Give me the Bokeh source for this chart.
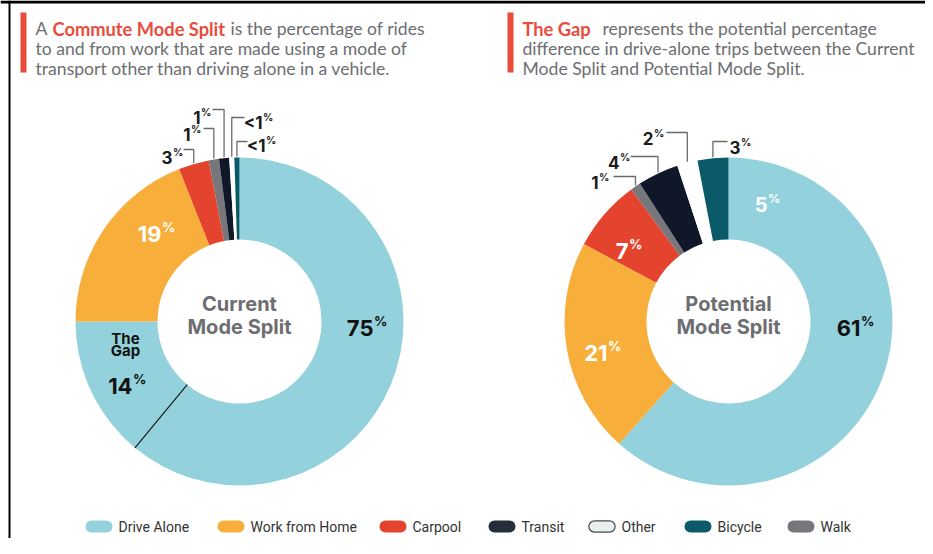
import math
from bokeh.plotting import figure
from bokeh.models import ColumnDataSource, Range1d
from bokeh.core.properties import value
from bokeh.embed import file_html
from bokeh.resources import INLINE

# ---------------- data ----------------
modes = ["Drive Alone", "Work from Home", "Carpool", "Walk", "Transit", "Other", "Bicycle"]
current_values = [75, 19, 3, 1, 1, 0.5, 0.5]
current_labels = ["75", "19", "3", "1", "1", "<1", "<1"]
potential_values = [61, 21, 7, 1, 4, 2, 3]
potential_labels = ["61", "21", "7", "1", "4", "2", "3"]
gap_value = 14
potential_drive_alone_gap_label = "5"
legend_order = ["Drive Alone", "Work from Home", "Carpool", "Transit", "Other", "Bicycle", "Walk"]

colors = {"Drive Alone": "#93d2dc", "Work from Home": "#f8ae3a", "Carpool": "#e4432e",
          "Walk": "#77767b", "Transit": "#0f1729", "Other": "#ffffff", "Bicycle": "#0a5a6a"}
legend_fill = dict(colors, Other="#e9eeee", Transit="#262d3b")

RED = "#e84c3d"
GRAY = "#6d6e71"
FONT = value("Lato")
LFONT = value("Inter")

W, H = 925, 538
p = figure(width=W, height=H, output_backend="svg", toolbar_location=None,
           x_range=Range1d(0, W), y_range=Range1d(0, H),
           x_axis_type=None, y_axis_type=None, min_border=0)
p.grid.visible = False
p.outline_line_color = None
p.background_fill_color = "white"


def Y(py):
    return H - py


R_IN, R_OUT = 82, 164
CY = 321


def donut(cx, values):
    total = float(sum(values))
    s = 0.0
    starts, ends, mids = [], [], []
    for v in values:
        a0 = s / total * 360.0
        a1 = (s + v) / total * 360.0
        s += v
        starts.append(math.radians(90 - a1))
        ends.append(math.radians(90 - a0))
        mids.append((a0 + a1) / 2)
    src = ColumnDataSource(dict(mode=modes, value=values, start=starts, end=ends,
                                color=[colors[m] for m in modes]))
    p.annular_wedge(x=cx, y=Y(CY), inner_radius=R_IN, outer_radius=R_OUT,
                    start_angle="start", end_angle="end", color="color",
                    line_color=None, source=src)
    return mids


def pct(num, x, y, size, color):
    p.text(x=[x], y=[Y(y)], text=[num], text_align="right", text_baseline="alphabetic",
           text_font=LFONT, text_font_style="bold", text_font_size=f"{size}px", text_color=color)
    p.text(x=[x + 0.5], y=[Y(y - size * 0.30)], text=["%"], text_align="left",
           text_baseline="alphabetic", text_font=LFONT, text_font_style="bold",
           text_font_size=f"{size * 0.6:.1f}px", text_color=color)


def leader(cx, mid_deg, lx, ly):
    th = math.radians(mid_deg)
    px = cx + R_OUT * math.sin(th)
    py = CY - R_OUT * math.cos(th)
    p.line(x=[lx, px, px], y=[Y(ly), Y(ly), Y(py - 1)], line_color="#6b6b6b", line_width=1.3)


# ---------------- border ----------------
p.segment(x0=[0], y0=[Y(1.5)], x1=[W], y1=[Y(1.5)], line_color="black", line_width=3)
p.segment(x0=[9], y0=[Y(0)], x1=[9], y1=[Y(H)], line_color="black", line_width=2)

# ---------------- headers ----------------
p.quad(left=[20, 507], right=[26, 513], top=[Y(12), Y(12)], bottom=[Y(72), Y(72)],
       color=RED, line_color=None)


def htext(x, y, t, color=GRAY, bold=False):
    p.text(x=[x], y=[Y(y)], text=[t], text_font=FONT,
           text_font_size="18.3px" if bold else "17.6px",
           text_font_style="bold" if bold else "normal", text_color=color,
           text_baseline="alphabetic", text_align="left")


htext(35, 28, "A")
htext(52, 28, "Commute Mode Split", RED, True)
htext(230, 28, "is the percentage of rides")
htext(35, 48, "to and from work that are made using a mode of")
htext(35, 68, "transport other than driving alone in a vehicle.")

htext(522, 28, "The Gap", RED, True)
htext(602, 28, "represents the potential percentage")
htext(522, 48, "difference in drive-alone trips between the Current")
htext(522, 68, "Mode Split and Potential Mode Split.")

# ---------------- left donut ----------------
CXL = 239
mids_c = donut(CXL, current_values)

g = math.radians(potential_values[0] / float(sum(current_values)) * 360.0)
p.line(x=[CXL + R_IN * math.sin(g), CXL + R_OUT * math.sin(g)],
       y=[Y(CY - R_IN * math.cos(g)), Y(CY - R_OUT * math.cos(g))],
       line_color="#1a1a1a", line_width=1.2)

pct(current_labels[0], 373, 327, 22, "#111111")
pct(current_labels[1], 161, 233, 22, "#ffffff")
p.text(x=[125, 125], y=[Y(347), Y(359)], text=["The", "Gap"], text_align="center",
       text_font=LFONT, text_font_style="bold", text_font_size="15px", text_color="#111111")
pct(str(gap_value), 132, 385, 22, "#111111")

call_c = [(172, 157, 183, 149), (190, 134, 203, 128), (200, 117, 212, 109),
          (262, 122, 244, 117), (265, 145, 247, 141)]
for i, (jx, by, lx, ly) in zip(range(2, 7), call_c):
    pct(current_labels[i], jx, by, 17, "#1a1a1a")
    leader(CXL, mids_c[i], lx, ly)

p.text(x=[CXL, CXL], y=[Y(315), Y(338)], text=["Current", "Mode Split"], text_align="center",
       text_font=LFONT, text_font_style="bold", text_font_size="20px", text_color=GRAY)

# ---------------- right donut ----------------
CXR = 728
mids_p = donut(CXR, potential_values)

pct(potential_labels[0], 860, 327, 22, "#111111")
pct(potential_labels[1], 607, 352, 22, "#ffffff")
pct(potential_labels[2], 628, 250, 22, "#ffffff")
pct(potential_drive_alone_gap_label, 767, 204, 20, "#ffffff")

call_p = [(598, 182, 613, 176), (619, 162, 630, 156), (653, 138, 666, 132), (740, 147, 727, 141)]
for i, (jx, by, lx, ly) in zip(range(3, 7), call_p):
    pct(potential_labels[i], jx, by, 17, "#1a1a1a")
    leader(CXR, mids_p[i], lx, ly)

p.text(x=[CXR, CXR], y=[Y(315), Y(338)], text=["Potential", "Mode Split"], text_align="center",
       text_font=LFONT, text_font_style="bold", text_font_size="20px", text_color=GRAY)

# ---------------- legend ----------------
pill_x = [85, 217, 379, 488, 588, 684, 787]
LY = 526
for m, x0 in zip(legend_order, pill_x):
    if m == "Other":
        p.segment(x0=[x0 + 6], y0=[Y(LY)], x1=[x0 + 21], y1=[Y(LY)], line_color="#4a4a4a",
                  line_width=12.5, line_cap="round")
        p.segment(x0=[x0 + 6], y0=[Y(LY)], x1=[x0 + 21], y1=[Y(LY)], line_color=legend_fill[m],
                  line_width=10, line_cap="round")
    else:
        p.segment(x0=[x0 + 6], y0=[Y(LY)], x1=[x0 + 21], y1=[Y(LY)], line_color=legend_fill[m],
                  line_width=12, line_cap="round")
    p.text(x=[x0 + 33], y=[Y(LY)], text=[m], text_baseline="middle", text_align="left",
           text_font=value("Roboto"), text_font_size="14px", text_color="#333333")

open("out.html", "w").write(file_html(p, INLINE))
